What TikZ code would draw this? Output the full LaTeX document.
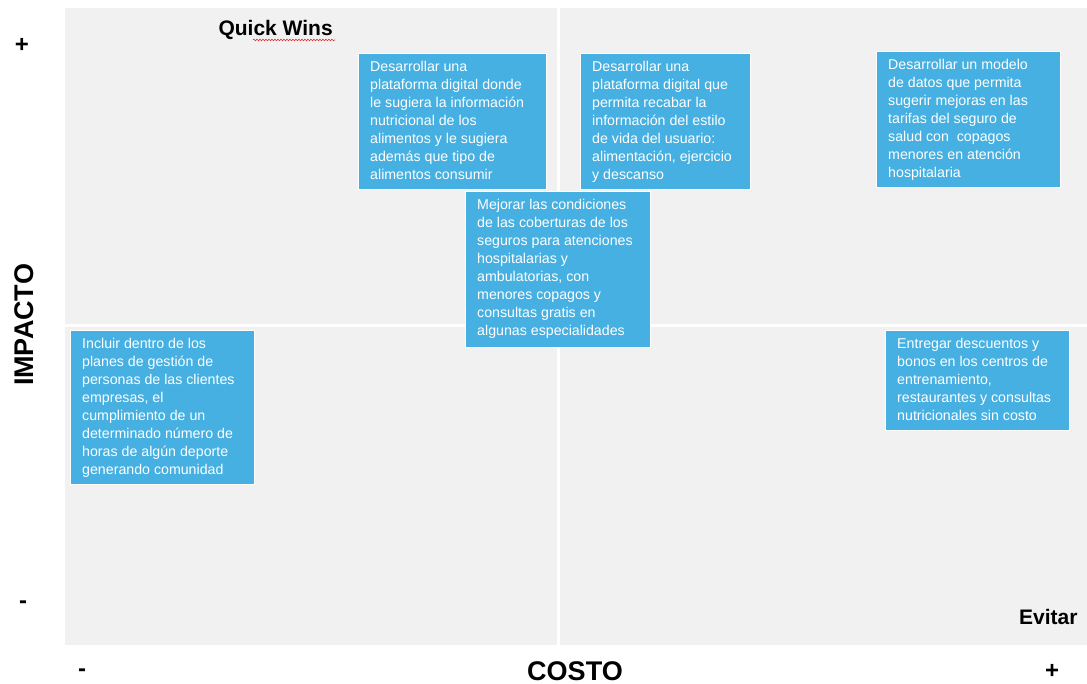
\documentclass[tikz,border=0pt]{standalone}
\usepackage{fontspec}
\setmainfont{Liberation Sans}
\usetikzlibrary{decorations.pathmorphing}
\definecolor{quad}{HTML}{F1F1F1}
\definecolor{boxblue}{HTML}{45B0E1}
\definecolor{squig}{HTML}{E03030}
\tikzset{
  quadrant/.style={fill=quad, draw=none},
  idea/.style={fill=boxblue, draw=white, line width=0.8pt, anchor=north west, inner sep=0pt},
  ideatext/.style={anchor=north west, text=white, align=left, inner sep=0pt,
    font=\fontsize{14.2}{18}\selectfont},
  axislabel/.style={font=\fontsize{27}{30}\selectfont\bfseries, text=black},
  sign/.style={font=\fontsize{24}{26}\selectfont\bfseries, text=black},
  corner/.style={font=\fontsize{21}{24}\selectfont\bfseries, text=black}
}
\begin{document}
\begin{tikzpicture}[x=1pt, y=-1pt]
\useasboundingbox (0,0) rectangle (1087,684);
\fill[white] (0,0) rectangle (1087,684);
% quadrants
\path[quadrant] (65,8) rectangle (556.5,324.5);
\path[quadrant] (559.5,8) rectangle (1087,324.5);
\path[quadrant] (65,327.5) rectangle (556.5,645);
\path[quadrant] (559.5,327.5) rectangle (1087,645);
% labels
\node[corner, anchor=west] (qw) at (215,30) {Quick Wins};
\draw[squig, line width=0.6pt, decorate, decoration={snake, amplitude=0.8pt, segment length=3pt}]
  (253,40) -- (335,40);
\node[corner, anchor=east] (ev) at (1081,617) {Evitar};
\node[axislabel, rotate=90] (imp) at (24,325) {IMPACTO};
\node[axislabel] (cos) at (575,671) {COSTO};
\node[sign] (yp) at (22,45) {+};
\node[sign] (ym) at (23,605) {-};
\node[sign] (xm) at (82,673) {-};
\node[sign] (xp) at (1052,671) {+};
% boxes
\node[idea, minimum width=188, minimum height=136] (b1) at (358,53) {};
\node[ideatext] (t1) at ([xshift=12, yshift=-8]b1.north west)
 {Desarrollar una\\plataforma digital donde\\le sugiera la información\\nutricional de los\\alimentos y le sugiera\\además que tipo de\\alimentos consumir};
\node[idea, minimum width=170, minimum height=136] (b2) at (580,53) {};
\node[ideatext] (t2) at ([xshift=12, yshift=-8]b2.north west)
 {Desarrollar una\\plataforma digital que\\permita recabar la\\información del estilo\\de vida del usuario:\\alimentación, ejercicio\\y descanso};
\node[idea, minimum width=184, minimum height=136] (b3) at (876,51) {};
\node[ideatext] (t3) at ([xshift=12, yshift=-8]b3.north west)
 {Desarrollar un modelo\\de datos que permita\\sugerir mejoras en las\\tarifas del seguro de\\salud con\ \ copagos\\menores en atención\\hospitalaria};
\node[idea, minimum width=185, minimum height=156] (b4) at (465,191) {};
\node[ideatext] (t4) at ([xshift=12, yshift=-8]b4.north west)
 {Mejorar las condiciones\\de las coberturas de los\\seguros para atenciones\\hospitalarias y\\ambulatorias, con\\menores copagos y\\consultas gratis en\\algunas especialidades};
\node[idea, minimum width=184, minimum height=154] (b5) at (70,330) {};
\node[ideatext] (t5) at ([xshift=12, yshift=-8]b5.north west)
 {Incluir dentro de los\\planes de gestión de\\personas de las clientes\\empresas, el\\cumplimiento de un\\determinado número de\\horas de algún deporte\\generando comunidad};
\node[idea, minimum width=184, minimum height=100] (b6) at (885,330) {};
\node[ideatext] (t6) at ([xshift=12, yshift=-8]b6.north west)
 {Entregar descuentos y\\bonos en los centros de\\entrenamiento,\\restaurantes y consultas\\nutricionales sin costo};
\end{tikzpicture}
\end{document}
